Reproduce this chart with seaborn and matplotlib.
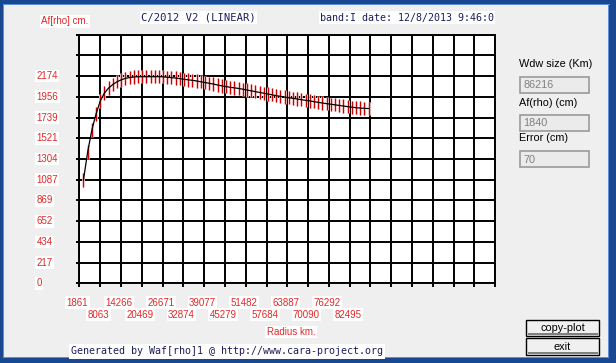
import numpy as np
import pandas as pd
import matplotlib
matplotlib.use("Agg")
import matplotlib.pyplot as plt
import matplotlib.transforms as mtransforms
from matplotlib.patches import Rectangle
import seaborn as sns

radius_km = [3100, 4350, 5600, 6850, 8100, 9350, 10600, 11850, 13100, 14350,
             15600, 16850, 18100, 19350, 20600, 21850, 23100, 24350, 25600, 26850,
             28100, 29350, 30600, 31850, 33100, 34350, 35600, 36850, 38100, 39350,
             40600, 41850, 43100, 44350, 45600, 46850, 48100, 49350, 50600, 51850,
             53100, 54350, 55600, 56850, 58100, 59350, 60600, 61850, 63100, 64350,
             65600, 66850, 68100, 69350, 70600, 71850, 73100, 74350, 75600, 76850,
             78100, 79350, 80600, 81850, 83100, 84350, 85600, 86850, 88100]
afrho_cm = [1084, 1378, 1608, 1776, 1913, 1997, 2049, 2086, 2115, 2135,
            2151, 2159, 2165, 2167, 2168, 2168, 2168, 2168, 2168, 2167,
            2162, 2158, 2154, 2148, 2141, 2135, 2130, 2123, 2115, 2107,
            2099, 2091, 2081, 2072, 2064, 2057, 2051, 2045, 2037, 2028,
            2020, 2011, 2003, 1995, 1986, 1978, 1969, 1962, 1955, 1947,
            1941, 1934, 1927, 1920, 1914, 1906, 1899, 1892, 1885, 1879,
            1873, 1867, 1860, 1854, 1848, 1843, 1839, 1836, 1834]
afrho_err = 70

x_labels = ["1861", "8063", "14266", "20469", "26671", "32874", "39077",
            "45279", "51482", "57684", "63887", "70090", "76292", "82495"]
y_labels = ["0", "217", "434", "652", "869", "1087", "1304", "1521",
            "1739", "1956", "2174"]

x0, x_step, n_cols = 1861, 6202.5, 20
y_step, n_rows = 217.4, 12

W, H = 616, 363
RED = "#e02828"
NAVY = "#1c1c5c"
BG = "#efefef"
SANS = ["Liberation Sans", "DejaVu Sans"]
MONO = ["DejaVu Sans Mono"]

df = pd.DataFrame({"radius": radius_km, "afrho": afrho_cm})

sns.set_style("white")
fig = plt.figure(figsize=(W / 100, H / 100), dpi=100, facecolor=BG)


def fx(x):
    return x / W


def fy(y):
    return 1 - y / H


# window frame
for (x, y, w, h) in [(0, 0, 4, H), (0, 0, W, 5), (609, 0, 7, H), (0, 357, W, 6)]:
    fig.patches.append(Rectangle((fx(x), fy(y + h)), w / W, h / H,
                                 transform=fig.transFigure, facecolor="#1a4791",
                                 edgecolor="none", zorder=1))
for (x, y, w, h) in [(3, 4, 1, 354), (3, 4, 607, 1), (608, 4, 1, 354), (3, 357, 606, 1)]:
    fig.patches.append(Rectangle((fx(x), fy(y + h)), w / W, h / H,
                                 transform=fig.transFigure, facecolor="#5f8fd6",
                                 edgecolor="none", zorder=2))

# plot area
left, top, right, bottom = 79.3, 34.7, 495.3, 283.3
ax = fig.add_axes([fx(left), fy(bottom), (right - left) / W, (bottom - top) / H])
ax.set_facecolor("white")

ax.errorbar(df["radius"], df["afrho"], yerr=afrho_err, fmt="none",
            ecolor="#f7c4c4", elinewidth=2.0, capsize=0, zorder=2)
ax.errorbar(df["radius"], df["afrho"], yerr=afrho_err, fmt="none",
            ecolor="#cc0000", elinewidth=0.75, capsize=0, zorder=3)
sns.lineplot(data=df, x="radius", y="afrho", color="black", lw=0.9, ax=ax, zorder=4)

ax.set_xlim(x0, x0 + n_cols * x_step)
ax.set_ylim(0, n_rows * y_step)
ax.set_xticks([x0 + i * x_step for i in range(n_cols + 1)])
ax.set_yticks([i * y_step for i in range(n_rows + 1)])
ax.set_xticklabels([])
ax.set_yticklabels([])
ax.grid(True, color="black", lw=1.4, zorder=1)
ax.set_axisbelow(True)
for s in ax.spines.values():
    s.set_visible(True)
    s.set_color("black")
    s.set_linewidth(1.4)
ax.tick_params(axis="x", length=3, width=1.4, color="black", direction="out", bottom=True)
ax.tick_params(axis="y", length=2, width=1.4, color="black", direction="out", left=True)
ax.set_xlabel("")
ax.set_ylabel("")

white_box = dict(facecolor="white", edgecolor="none", pad=1.0)

# y tick labels (left aligned, as in the original)
ytrans = mtransforms.blended_transform_factory(fig.transFigure, ax.transData)
for i, lab in enumerate(y_labels):
    fig.text(fx(36.5), i * y_step, lab, transform=ytrans, color=RED,
             family=SANS, fontsize=7, ha="left", va="center", bbox=white_box)

# x tick labels in two staggered rows
xtrans = mtransforms.blended_transform_factory(ax.transData, fig.transFigure)
for i, lab in enumerate(x_labels):
    row_y = 302.5 if i % 2 == 0 else 314.5
    fig.text(x0 + i * x_step - 500, fy(row_y), lab, transform=xtrans, color=RED,
             family=SANS, fontsize=7, ha="center", va="center", bbox=white_box)

fig.text(fx(291), fy(332), "Radius km.", color=RED, family=SANS, fontsize=7,
         ha="center", va="center", bbox=white_box)
fig.text(fx(41), fy(21.5), "Af[rho] cm.", color=RED, family=SANS, fontsize=7,
         ha="left", va="center", bbox=white_box)

# title strings
fig.text(fx(141), fy(17.5), "C/2012 V2 (LINEAR)", color=NAVY, family=MONO,
         fontsize=7.6, ha="left", va="center", bbox=white_box)
fig.text(fx(320), fy(17.5), "band:I date: 12/8/2013 9:46:0", color=NAVY, family=MONO,
         fontsize=7.2, ha="left", va="center", bbox=white_box)
fig.text(fx(71), fy(351.5), "Generated by Waf[rho]1 @ http://www.cara-project.org",
         color=NAVY, family=MONO, fontsize=7.2, ha="left", va="center",
         bbox=dict(facecolor="white", edgecolor="none", pad=1.5))

# right side panel
panel = [("Wdw size (Km)", "86216", 64, 77),
         ("Af(rho) (cm)", "1840", 103, 115),
         ("Error (cm)", "70", 138, 151)]
for title, value, ty, by in panel:
    fig.text(fx(519), fy(ty), title, color="black", family=SANS, fontsize=7.8,
             ha="left", va="center")
    fig.patches.append(Rectangle((fx(520), fy(by + 16)), 69 / W, 16 / H,
                                 transform=fig.transFigure, facecolor="#ebebeb",
                                 edgecolor="#9a9a9a", lw=1.2, zorder=3))
    fig.text(fx(523), fy(by + 8.5), value, color="#808080", family=SANS,
             fontsize=7.8, ha="left", va="center")

# buttons
for label, by, bh in [("copy-plot", 320, 16), ("exit", 338, 17)]:
    fig.patches.append(Rectangle((fx(526), fy(by + bh)), 73 / W, bh / H,
                                 transform=fig.transFigure, facecolor="#f0f0f0",
                                 edgecolor="black", lw=1.0, zorder=3))
    fig.patches.append(Rectangle((fx(527.5), fy(by + bh - 1.5)), 70 / W, 1.2 / H,
                                 transform=fig.transFigure, facecolor="#808080",
                                 edgecolor="none", zorder=4))
    fig.text(fx(562.5), fy(by + bh / 2), label, color="black", family=SANS,
             fontsize=7.8, ha="center", va="center")

fig.savefig("out.png", dpi=100, facecolor=BG)
